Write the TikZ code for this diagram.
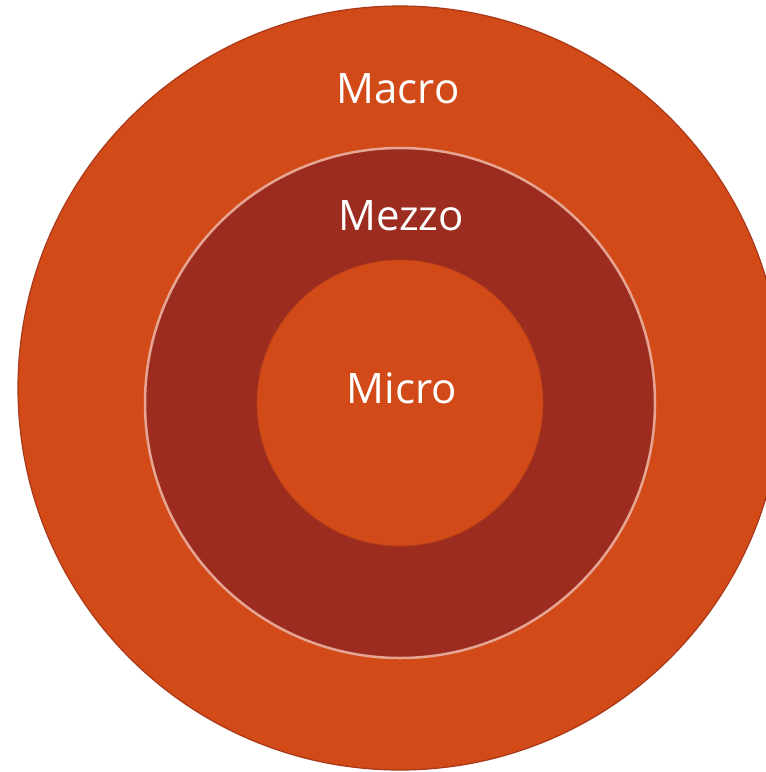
\documentclass[tikz,border=0pt]{standalone}
\usepackage{fontspec}
\setmainfont{Open Sans}
\definecolor{rustorange}{HTML}{D24A17}
\definecolor{rustedge}{HTML}{A8391A}
\definecolor{brickred}{HTML}{9B2C1F}
\definecolor{paleedge}{HTML}{E6A493}
\tikzset{
  ring/.style={circle,inner sep=0pt},
  ringlabel/.style={anchor=base,text=white,font=\fontsize{42}{42}\selectfont}
}
\begin{document}
\begin{tikzpicture}[x=1pt,y=-1pt]
                \useasboundingbox (0,0) rectangle (766,772);
                \fill[white] (0,0) rectangle (766,772);

                \node[ring,fill=rustorange,draw=rustedge,line width=1.2pt,minimum size=764pt] (macro) at (400,388) {};
                \node[ring,fill=brickred,draw=paleedge,line width=2.5pt,minimum size=510pt] (mezzo) at (400,403) {};
                \node[ring,fill=rustorange,draw=rustedge!60!rustorange,line width=0.8pt,minimum size=286pt] (micro) at (400,403) {};

                \node[ringlabel] (macrotext) at (398,103) {Macro};
                \node[ringlabel] (mezzotext) at (401,230) {Mezzo};
                \node[ringlabel] (microtext) at (402,403) {Micro};
\end{tikzpicture}
\end{document}
